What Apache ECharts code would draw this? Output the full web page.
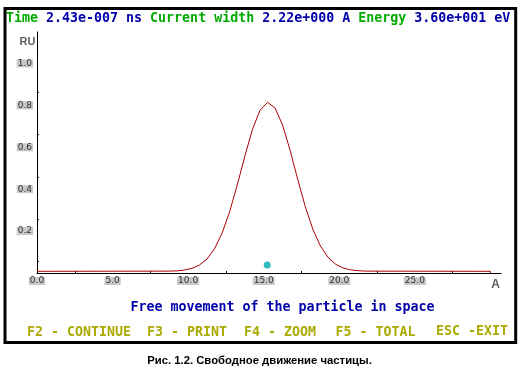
<!DOCTYPE html>
<html><head><meta charset="utf-8">
<script src="https://cdn.jsdelivr.net/npm/echarts@6/dist/echarts.min.js"></script>
<style>html,body{margin:0;padding:0;background:#fff}#c{width:530px;height:380px}</style>
</head><body><div id="c"></div>
<script>
// Particle density curve (A vs RU)
const positions = [0, 8.75, 9.25, 9.75, 10.25, 10.75, 11.25, 11.75, 12.25, 12.75, 13.25, 13.75, 14.25, 14.75, 15.25, 15.75, 16.25, 16.75, 17.25, 17.75, 18.25, 18.75, 19.25, 19.75, 20.25, 20.75, 21.25, 21.75, 30, 30];
const density   = [0.008, 0.009, 0.010, 0.014, 0.022, 0.038, 0.067, 0.116, 0.191, 0.294, 0.420, 0.557, 0.684, 0.776, 0.814, 0.788, 0.706, 0.584, 0.447, 0.317, 0.209, 0.129, 0.075, 0.042, 0.024, 0.015, 0.011, 0.009, 0.008, 0];
const markerPoint = [15.23, 0.038];
const xTickLabels = [0, 5, 10, 15, 20, 25];
const yTickLabels = [0.2, 0.4, 0.6, 0.8, 1.0];
const xMinorTicks = [2.5, 7.5, 12.5, 17.5, 22.5, 27.5];
const yMinorTicks = [0.054, 0.256, 0.458, 0.66, 0.862];

const MONO = '"DejaVu Sans Mono", "Liberation Mono", monospace';
const chart = echarts.init(document.getElementById('c'));
const labelStyle = {
  fontFamily: 'DejaVu Sans', fontSize: 9, color: '#303030',
  backgroundColor: '#c8c8c8', padding: [0, 1, 0, 1], lineHeight: 8
};
chart.setOption({
  animation: false,
  backgroundColor: '#fff',
  title: {
    text: '{g|Time} {b|2.43e-007 ns} {g|Current width} {b|2.22e+000 A} {g|Energy} {b|3.60e+001 eV}',
    left: 6, top: 12, padding: 0,
    textStyle: {
      rich: {
        g: {color: '#00aa00', fontFamily: MONO, fontWeight: 'bold', fontSize: 13.3},
        b: {color: '#0000aa', fontFamily: MONO, fontWeight: 'bold', fontSize: 13.3}
      },
      fontFamily: MONO, fontWeight: 'bold', fontSize: 13.3
    }
  },
  grid: {left: 37, top: 32, width: 464, height: 241, containLabel: false},
  xAxis: {
    type: 'value', min: 0, max: 30.7,
    axisLine: {show: true, onZero: false, lineStyle: {color: '#000', width: 1}},
    axisTick: {show: true, inside: true, length: 2, customValues: xMinorTicks, lineStyle: {color: '#000'}},
    axisLabel: Object.assign({show: true, margin: 4, customValues: xTickLabels,
      formatter: v => v.toFixed(1)}, labelStyle),
    splitLine: {show: false}
  },
  yAxis: {
    type: 'value', min: 0, max: 1.15,
    axisLine: {show: true, lineStyle: {color: '#000', width: 1}},
    axisTick: {show: true, inside: true, length: 2, customValues: yMinorTicks, lineStyle: {color: '#000'}},
    axisLabel: Object.assign({show: true, margin: 4, customValues: yTickLabels,
      formatter: v => v.toFixed(1)}, labelStyle),
    splitLine: {show: false}
  },
  series: [
    {
      type: 'line', data: positions.map((x, i) => [x, density[i]]),
      showSymbol: false, symbol: 'none',
      lineStyle: {color: '#aa0000', width: 1}, z: 2
    },
    {
      type: 'scatter', data: [markerPoint], symbolSize: 7,
      itemStyle: {color: '#00aaaa'}, z: 3
    }
  ],
  graphic: [
    {type: 'rect', shape: {x: 5, y: 8.5, width: 510.7, height: 334},
      style: {fill: 'none', stroke: '#000', lineWidth: 3}, silent: true},
    {type: 'text', x: 27.5, y: 42, style: {text: 'RU', font: 'bold 11px "Liberation Sans"', fill: '#606060', align: 'center', verticalAlign: 'middle'}},
    {type: 'text', x: 495.5, y: 285, style: {text: 'A', font: 'bold 12px "Liberation Sans"', fill: '#606060', align: 'center', verticalAlign: 'middle'}},
    {type: 'text', x: 282.5, y: 308, style: {text: 'Free movement of the particle in space', font: 'bold 13.3px ' + MONO, fill: '#0000aa', align: 'center', verticalAlign: 'middle'}},
    {type: 'text', x: 27, y: 332.5, style: {text: 'F2 - CONTINUE', font: 'bold 13.3px ' + MONO, fill: '#aaaa00', align: 'left', verticalAlign: 'middle'}},
    {type: 'text', x: 147, y: 332.5, style: {text: 'F3 - PRINT', font: 'bold 13.3px ' + MONO, fill: '#aaaa00', align: 'left', verticalAlign: 'middle'}},
    {type: 'text', x: 244, y: 332.5, style: {text: 'F4 - ZOOM', font: 'bold 13.3px ' + MONO, fill: '#aaaa00', align: 'left', verticalAlign: 'middle'}},
    {type: 'text', x: 335.5, y: 332.5, style: {text: 'F5 - TOTAL', font: 'bold 13.3px ' + MONO, fill: '#aaaa00', align: 'left', verticalAlign: 'middle'}},
    {type: 'text', x: 436, y: 331.5, style: {text: 'ESC -EXIT', font: 'bold 13.3px ' + MONO, fill: '#aaaa00', align: 'left', verticalAlign: 'middle'}},
    {type: 'text', x: 259.5, y: 360.5, style: {text: 'Рис. 1.2. Свободное движение частицы.', font: 'bold 11.3px "Liberation Sans"', fill: '#000', align: 'center', verticalAlign: 'middle'}}
  ]
});
</script>
</body></html>
